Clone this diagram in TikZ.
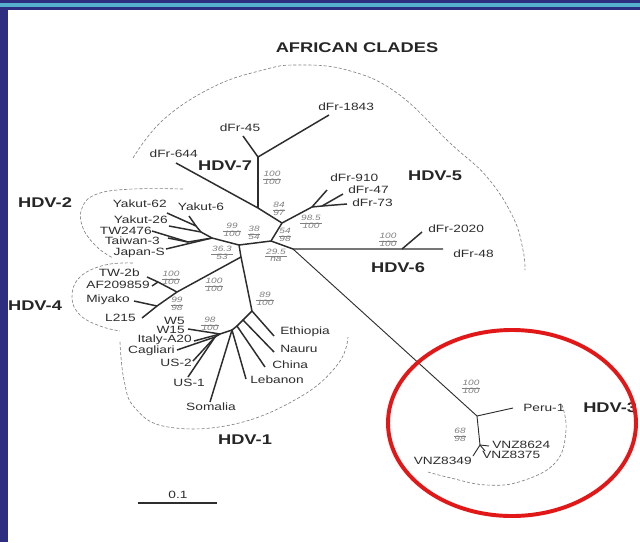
\documentclass[tikz,border=0pt]{standalone}
\usepackage{fontspec}
\newfontfamily\treefont[FakeStretch=1.3]{Liberation Sans}
\definecolor{slidenavy}{RGB}{46,46,128}
\definecolor{slidecyan}{RGB}{84,176,204}
\definecolor{ringred}{RGB}{226,24,24}
\definecolor{treegray}{RGB}{45,45,45}
\renewcommand{\arraystretch}{0.8}
\setlength{\tabcolsep}{0.6pt}
\newcommand{\bootval}[2]{\begin{tabular}{c}#1\\\hline #2\end{tabular}}
\tikzset{
  branch/.style={draw=treegray, line width=1.05pt},
  thinbranch/.style={draw=treegray, line width=0.65pt},
  leaf/.style={font=\treefont\fontsize{7.5}{8}\selectfont, text=treegray, inner sep=0pt},
  boot/.style={font=\treefont\itshape\fontsize{5.5}{6}\selectfont, text=gray, inner sep=0pt},
  cladename/.style={font=\treefont\bfseries\fontsize{10}{11}\selectfont, text=black!85, inner sep=0pt},
  clade/.style={draw=gray, line width=0.45pt, dash pattern=on 2.2pt off 1.4pt},
}
\begin{document}
\begin{tikzpicture}[x=0.025cm, y=-0.025cm]
  \useasboundingbox (0,0) rectangle (640,542);
  \clip (0,0) rectangle (640,542);

  % Slide frame
  \fill[slidenavy] (0,0) rectangle (640,542);
  \fill[slidecyan] (0,3) rectangle (640,7);
  \fill[white] (8,10) rectangle (640,542);

  % Title
  \node[cladename] (title) at (357,48) {AFRICAN CLADES};

  % Inner nodes of the tree
  \coordinate (J1) at (282,223);
  \coordinate (J7) at (258,208);
  \coordinate (J7t) at (258,157);
  \coordinate (J5a) at (312,207);
  \coordinate (J5b) at (322,206);
  \coordinate (J2) at (271,241);
  \coordinate (J3) at (293,249);
  \coordinate (J6) at (402,249);
  \coordinate (P) at (477,416);
  \coordinate (Q) at (480,445);
  \coordinate (J4) at (239,245);
  \coordinate (J5) at (241,257);
  \coordinate (Y1) at (212,238);
  \coordinate (Y2) at (188,242);
  \coordinate (Y3) at (201,232);
  \coordinate (Y4) at (196,226);
  \coordinate (H4a) at (177,292);
  \coordinate (T) at (158,282);
  \coordinate (M) at (157,306);
  \coordinate (H1) at (252,311);
  \coordinate (N1) at (243,320);
  \coordinate (N2) at (237,326);
  \coordinate (N3) at (232,330);
  \coordinate (N4) at (220,334);
  \coordinate (N5) at (215,337);

  % Tips of the tree
  \coordinate (t1843) at (329,115);
  \coordinate (t45) at (243,136);
  \coordinate (t644) at (176,163);
  \coordinate (t910) at (327,190);
  \coordinate (t47) at (343,194);
  \coordinate (t73) at (347,204);
  \coordinate (t2020) at (422,232);
  \coordinate (t48) at (443,249);
  \coordinate (tPeru) at (513,408);
  \coordinate (t8624) at (489,446);
  \coordinate (t8375) at (485,451);
  \coordinate (t8349) at (473,456);
  \coordinate (tJapanS) at (166,249);
  \coordinate (tTW2476) at (152,231);
  \coordinate (tTaiwan) at (168,238);
  \coordinate (tYakut26) at (169,226);
  \coordinate (tYakut62) at (167,213);
  \coordinate (tYakut6) at (189,216);
  \coordinate (tTW2b) at (147,277);
  \coordinate (tAF) at (152,286);
  \coordinate (tMiyako) at (134,301);
  \coordinate (tL215) at (142,318);
  \coordinate (tEthiopia) at (274,336);
  \coordinate (tNauru) at (274,352);
  \coordinate (tChina) at (265,367);
  \coordinate (tLebanon) at (246,379);
  \coordinate (tSomalia) at (210,402);
  \coordinate (tW15) at (188,329);
  \coordinate (tItaly) at (194,341);
  \coordinate (tCagliari) at (177,350);
  \coordinate (tUS2) at (193,361);
  \coordinate (tUS1) at (188,377);

  % Draw the backbone
  \draw[branch] (J1) -- (J2) -- (J4) -- (J5) -- (H1);
  \draw[branch] (J2) -- (J3) -- (J6) -- (t48);
  \draw[branch] (J6) -- (t2020);

  % Draw HDV-7
  \draw[branch] (t644) -- (J7) -- (J1);
  \draw[branch] (J7) -- (J7t);
  \draw[branch] (t45) -- (J7t) -- (t1843);

  % Draw HDV-5
  \draw[branch] (J1) -- (J5a) -- (t910);
  \draw[branch] (J5a) -- (J5b) -- (t47);
  \draw[branch] (J5b) -- (t73);

  % Draw HDV-3
  \draw[thinbranch] (J3) -- (P) -- (tPeru);
  \draw[thinbranch] (P) -- (Q) -- (t8349);
  \draw[thinbranch] (Q) -- (t8624);
  \draw[thinbranch] (Q) -- (t8375);

  % Draw HDV-2
  \draw[branch] (J4) -- (Y1) -- (tJapanS);
  \draw[branch] (Y1) -- (Y2) -- (tTW2476);
  \draw[branch] (Y2) -- (tTaiwan);
  \draw[branch] (Y1) -- (Y3) -- (tYakut26);
  \draw[branch] (Y3) -- (Y4) -- (tYakut62);
  \draw[branch] (Y4) -- (tYakut6);

  % Draw HDV-4
  \draw[branch] (J5) -- (H4a) -- (M) -- (tL215);
  \draw[branch] (M) -- (tMiyako);
  \draw[branch] (H4a) -- (T) -- (tTW2b);
  \draw[branch] (T) -- (tAF);

  % Draw HDV-1
  \draw[branch] (H1) -- (tEthiopia);
  \draw[branch] (H1) -- (N1) -- (tNauru);
  \draw[branch] (N1) -- (N2) -- (tChina);
  \draw[branch] (N2) -- (N3) -- (tLebanon);
  \draw[branch] (N3) -- (tSomalia);
  \draw[branch] (N3) -- (N4) -- (tW15);
  \draw[branch] (N4) -- (tItaly);
  \draw[branch] (N4) -- (N5) -- (tCagliari);
  \draw[branch] (N5) -- (tUS2);
  \draw[branch] (N5) -- (tUS1);

  % Leaf labels
  \node[leaf, anchor=west] (lab1843) at (318,107) {dFr-1843};
  \node[leaf] (lab45) at (240,128) {dFr-45};
  \node[leaf, anchor=east] (lab644) at (198,154) {dFr-644};
  \node[leaf, anchor=west] (lab910) at (330,178) {dFr-910};
  \node[leaf, anchor=west] (lab47) at (348,190) {dFr-47};
  \node[leaf, anchor=west] (lab73) at (352,203) {dFr-73};
  \node[leaf, anchor=west] (lab2020) at (428,229) {dFr-2020};
  \node[leaf, anchor=west] (lab48) at (453,254) {dFr-48};
  \node[leaf, anchor=west] (labPeru) at (523,408) {Peru-1};
  \node[leaf, anchor=west] (lab8624) at (492,445) {VNZ8624};
  \node[leaf, anchor=west] (lab8375) at (482,455) {VNZ8375};
  \node[leaf, anchor=east] (lab8349) at (472,461) {VNZ8349};
  \node[leaf, anchor=east] (labYakut62) at (167,204) {Yakut-62};
  \node[leaf] (labYakut6) at (201,207) {Yakut-6};
  \node[leaf, anchor=east] (labYakut26) at (168,220) {Yakut-26};
  \node[leaf, anchor=east] (labTW2476) at (152,231) {TW2476};
  \node[leaf, anchor=east] (labTaiwan) at (160,241) {Taiwan-3};
  \node[leaf, anchor=east] (labJapanS) at (165,253) {Japan-S};
  \node[leaf, anchor=east] (labTW2b) at (140,273) {TW-2b};
  \node[leaf, anchor=east] (labAF) at (150,285) {AF209859};
  \node[leaf, anchor=east] (labMiyako) at (130,300) {Miyako};
  \node[leaf, anchor=east] (labL215) at (136,318) {L215};
  \node[leaf, anchor=east] (labW5) at (185,321) {W5};
  \node[leaf, anchor=east] (labW15) at (185,330) {W15};
  \node[leaf, anchor=east] (labItaly) at (192,340) {Italy-A20};
  \node[leaf, anchor=east] (labCagliari) at (175,351) {Cagliari};
  \node[leaf, anchor=east] (labUS2) at (192,363) {US-2};
  \node[leaf, anchor=east] (labUS1) at (205,383) {US-1};
  \node[leaf] (labSomalia) at (211,407) {Somalia};
  \node[leaf, anchor=west] (labEthiopia) at (280,332) {Ethiopia};
  \node[leaf, anchor=west] (labNauru) at (280,349) {Nauru};
  \node[leaf, anchor=west] (labChina) at (272,365) {China};
  \node[leaf, anchor=west] (labLebanon) at (250,380) {Lebanon};

  % Bootstrap values
  \node[boot] (bs7) at (272,179) {\bootval{100}{100}};
  \node[boot] (bs84) at (279,210) {\bootval{84}{97}};
  \node[boot] (bs5) at (311,223) {\bootval{98.5}{100}};
  \node[boot] (bs2) at (232,231) {\bootval{99}{100}};
  \node[boot] (bs38) at (254,234) {\bootval{38}{54}};
  \node[boot] (bs54) at (285,236) {\bootval{54}{98}};
  \node[boot] (bs36) at (222,254) {\bootval{36.3}{53}};
  \node[boot] (bs29) at (276,256) {\bootval{29.5}{na}};
  \node[boot] (bs6) at (388,241) {\bootval{100}{100}};
  \node[boot] (bsTW) at (171,279) {\bootval{100}{100}};
  \node[boot] (bs4) at (214,286) {\bootval{100}{100}};
  \node[boot] (bsM) at (177,305) {\bootval{99}{98}};
  \node[boot] (bsW) at (210,325) {\bootval{98}{100}};
  \node[boot] (bs1) at (265,300) {\bootval{89}{100}};
  \node[boot] (bs3) at (471,388) {\bootval{100}{100}};
  \node[boot] (bsV) at (460,436) {\bootval{68}{98}};

  % Clade outlines
  \draw[clade] plot[smooth, tension=0.7] coordinates {(133,158) (163,120) (213,87) (263,70) (297,65) (347,70) (397,93) (450,143) (487,177) (513,217) (523,250) (525,270)};
  \draw[clade] plot[smooth, tension=0.7] coordinates {(183,189) (133,189) (97,194) (82,208) (83,228) (97,247) (113,258)};
  \draw[clade] plot[smooth, tension=0.7] coordinates {(133,263) (105,265) (80,277) (72,297) (80,315) (100,326) (120,331)};
  \draw[clade] plot[smooth, tension=0.7] coordinates {(120,342) (124,380) (135,408) (168,427) (235,424) (300,397) (338,364) (348,337)};
  \draw[clade] plot[smooth, tension=0.7] coordinates {(562,405) (566,430) (556,462) (522,481) (486,485) (447,477) (428,472)};

  % Clade names
  \node[cladename] (hdvseven) at (225,166) {HDV-7};
  \node[cladename] (hdvfive) at (435,176) {HDV-5};
  \node[cladename] (hdvsix) at (398,268) {HDV-6};
  \node[cladename] (hdvtwo) at (45,203) {HDV-2};
  \node[cladename] (hdvfour) at (35,306) {HDV-4};
  \node[cladename] (hdvone) at (245,440) {HDV-1};
  \node[cladename, anchor=west] (hdvthree) at (583,408) {HDV-3};

  % Red ring round HDV-3
  \draw[ringred, line width=2.8pt] (512,423) ellipse [x radius=124, y radius=93];

  % Scale bar
  \coordinate (sbL) at (138,503);
  \coordinate (sbR) at (217,503);
  \draw[line width=0.8pt, treegray] (sbL) -- (sbR);
  \node[leaf] (sblabel) at (178,495) {0.1};
\end{tikzpicture}
\end{document}
